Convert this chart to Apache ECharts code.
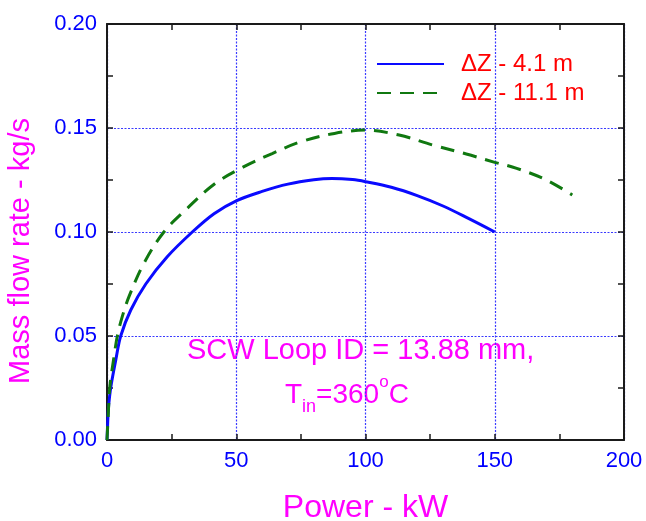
<!DOCTYPE html>
<html>
<head>
<meta charset="utf-8">
<script src="https://cdn.jsdelivr.net/npm/echarts@6/dist/echarts.min.js"></script>
<style>
  html, body { margin: 0; padding: 0; background: #fff; }
  #chart { width: 646px; height: 521px; }
</style>
</head>
<body>
<div id="chart"></div>
<script>
// Mass flow rate vs. power for two loop heights
const powerShort = [0, 0.1, 0.5, 1, 1.7, 3.4, 5.3, 9.2, 15, 23.3, 33, 41.4, 50, 60, 70, 80, 87, 95, 100, 110, 120, 130, 140, 150];
const flowShort  = [0, 0.003, 0.0144, 0.021, 0.0272, 0.0385, 0.05, 0.0625, 0.075, 0.0881, 0.10, 0.1088, 0.1150, 0.1195, 0.1230, 0.1251, 0.1257, 0.1252, 0.1242, 0.1215, 0.1175, 0.1125, 0.1064, 0.10];

const powerTall = [0, 0.5, 1.1, 2.7, 4, 5.9, 8.5, 14.3, 22, 30.4, 41.7, 52.8, 63.9, 75, 88, 100, 113, 126, 139, 150, 158.5, 170, 180];
const flowTall  = [0, 0.0125, 0.0256, 0.040, 0.05, 0.0593, 0.0689, 0.085, 0.10, 0.1106, 0.1232, 0.1313, 0.1377, 0.1434, 0.1474, 0.149, 0.1466, 0.1418, 0.1375, 0.1335, 0.1306, 0.125, 0.1178];

const seriesNames = ['\u0394Z - 4.1 m', '\u0394Z - 11.1 m'];
const xTicks = { min: 0, max: 200, interval: 50 };
const yTicks = { min: 0, max: 0.2, interval: 0.05 };

const FONT = 'Arial, "Liberation Sans", sans-serif';
const frame = '#1a1a1a';

const pairs = (xs, ys) => xs.map((x, i) => [x, ys[i]]);

const chart = echarts.init(document.getElementById('chart'), null, { renderer: 'canvas' });

const tickStyle = {
  axisTick: { show: true, inside: true, length: 6, lineStyle: { color: frame, width: 1.5 } },
  minorTick: { show: true, splitNumber: 2, length: 6, lineStyle: { color: frame, width: 1.5 } },
  axisLine: { show: true, onZero: false, lineStyle: { color: frame, width: 2 } }
};

const gridLine = { show: true, lineStyle: { color: '#3a3aff', type: [2, 1.5], width: 1.2, opacity: 1 } };

chart.setOption({
  animation: false,
  backgroundColor: '#fff',
  grid: { left: 107, right: 22, top: 24, bottom: 81, containLabel: false, outerBoundsMode: 'none' },
  legend: {
    orient: 'vertical',
    left: 371,
    top: 47,
    itemWidth: 67,
    itemHeight: 20,
    itemGap: 5,
    itemStyle: { opacity: 0 },
    textStyle: { color: '#ff0000', fontSize: 24, fontFamily: FONT, padding: [0, 0, 0, 12] },
    data: seriesNames
  },
  xAxis: [
    Object.assign({
      type: 'value',
      position: 'bottom',
      min: xTicks.min, max: xTicks.max, interval: xTicks.interval,
      name: 'Power - kW',
      nameLocation: 'middle',
      nameGap: 52,
      nameTextStyle: { color: '#ff00ff', fontSize: 32, fontFamily: FONT },
      axisLabel: { color: '#0000ff', fontSize: 22, fontFamily: FONT, margin: 10 },
      splitLine: gridLine
    }, tickStyle),
    Object.assign({
      type: 'value',
      position: 'top',
      min: xTicks.min, max: xTicks.max, interval: xTicks.interval,
      axisLabel: { show: false },
      splitLine: { show: false }
    }, tickStyle)
  ],
  yAxis: [
    Object.assign({
      type: 'value',
      position: 'left',
      min: yTicks.min, max: yTicks.max, interval: yTicks.interval,
      name: 'Mass flow rate - kg/s',
      nameLocation: 'middle',
      nameGap: 72,
      nameTextStyle: { color: '#ff00ff', fontSize: 29, fontFamily: FONT, padding: [0, 38, 0, 0] },
      axisLabel: { color: '#0000ff', fontSize: 22, fontFamily: FONT, margin: 10,
        formatter: v => v.toFixed(2) },
      splitLine: gridLine
    }, tickStyle),
    Object.assign({
      type: 'value',
      position: 'right',
      min: yTicks.min, max: yTicks.max, interval: yTicks.interval,
      axisLabel: { show: false },
      splitLine: { show: false }
    }, tickStyle)
  ],
  series: [
    {
      name: seriesNames[0],
      type: 'line',
      data: pairs(powerShort, flowShort),
      symbol: 'none',
      smooth: 0.35,
      lineStyle: { color: '#0a0aff', width: 3 },
      itemStyle: { color: '#0a0aff' },
      z: 3
    },
    {
      name: seriesNames[1],
      type: 'line',
      data: pairs(powerTall, flowTall),
      symbol: 'none',
      smooth: 0.35,
      lineStyle: { color: '#107810', width: 3, type: [14, 9] },
      itemStyle: { color: '#107810' },
      z: 4
    }
  ],
  graphic: [
    {
      type: 'text',
      left: 187,
      top: 336,
      style: { text: 'SCW Loop ID = 13.88 mm,', fill: '#ff00ff', font: '29px ' + FONT }
    },
    {
      type: 'text',
      left: 285,
      top: 374,
      style: {
        text: '{t|T}{sub|in}{t|=360}{sup|o}{t|C}',
        fill: '#ff00ff',
        rich: {
          t:   { fontSize: 28, fontFamily: FONT, color: '#ff00ff', lineHeight: 42, verticalAlign: 'middle' },
          sub: { fontSize: 18, fontFamily: FONT, color: '#ff00ff', lineHeight: 18, verticalAlign: 'bottom' },
          sup: { fontSize: 17, fontFamily: FONT, color: '#ff00ff', lineHeight: 17, verticalAlign: 'top' }
        }
      }
    }
  ]
});
</script>
</body>
</html>
